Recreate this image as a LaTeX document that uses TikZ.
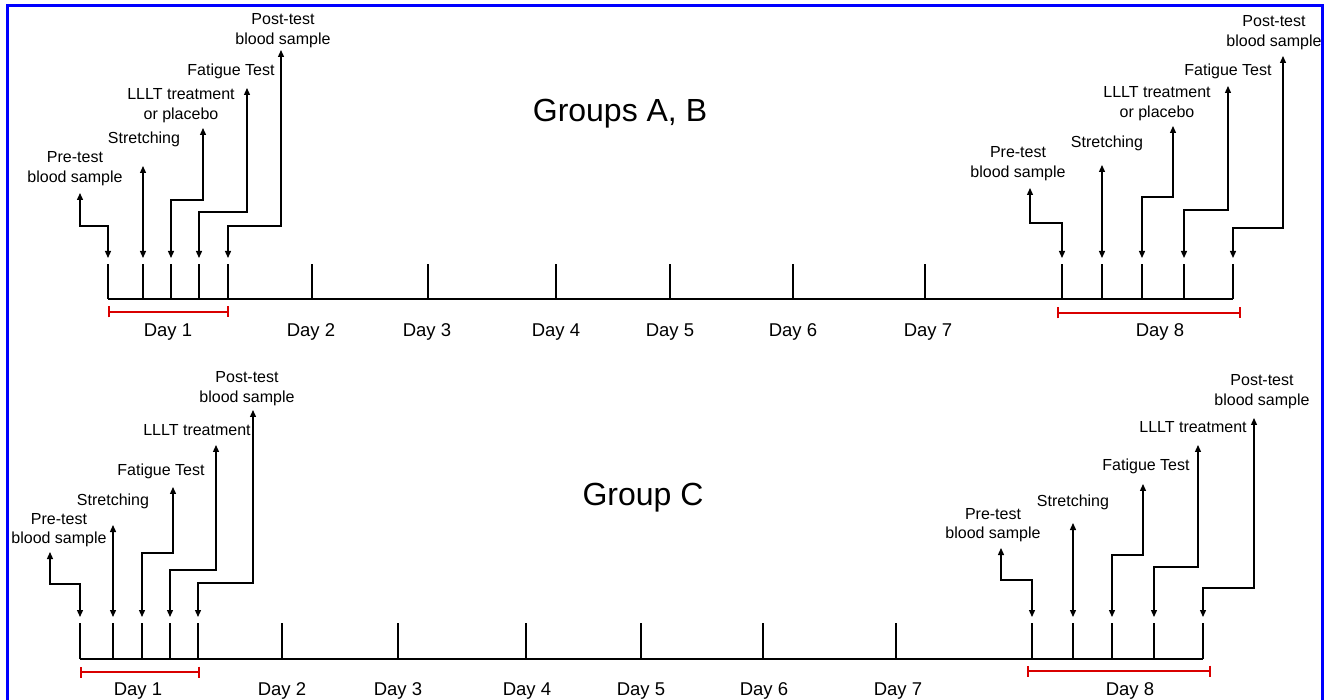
\documentclass[tikz,border=0pt]{standalone}
\usepackage{fontspec}
\setmainfont{Liberation Sans}
\usetikzlibrary{arrows.meta}
\begin{document}
\begin{tikzpicture}[x={(1pt,0)},y={(0,-1pt)},
  lbl/.style={font=\fontsize{16}{19.5}\selectfont,align=center,inner sep=0pt,anchor=base},
  daylbl/.style={font=\fontsize{18.5}{20}\selectfont,inner sep=0pt,anchor=base},
  title/.style={font=\fontsize{32}{34}\selectfont,inner sep=0pt,anchor=base},
  tick/.style={line width=2.6pt,line cap=butt},
  axis/.style={line width=2.6pt,line cap=butt},
  span/.style={draw=red!85!black,line width=2.2pt,{Bar[width=11pt,line width=2pt]}-{Bar[width=11pt,line width=2pt]}},
  arr/.style={line width=1.3pt,{Triangle[length=7pt,width=6pt]}-{Triangle[length=7pt,width=6pt]}},
  frame/.style={draw=blue,line width=3pt}]
\useasboundingbox (0,0) rectangle (1326,700);
\begin{scope}
\clip (0,0) rectangle (1326,700);
\draw[frame] (7,6) rectangle (1322,712);
\end{scope}

% ================= Panel A =================
\node[title] (tA) at (620,122) {Groups A, B};
\foreach \n/\x in {a1/108,a2/143,a3/171,a4/199,a5/228,a6/312,a7/428,a8/556,a9/670,a10/793,a11/925,a12/1062,a13/1102,a14/1142,a15/1184,a16/1233}{
  \coordinate (\n b) at (\x,299);
  \coordinate (\n t) at (\x,264);
  \coordinate (\n e) at (\x,258);
}
\draw[axis] (a1b) -- (a16b);
\foreach \n in {a1,a2,a3,a4,a5,a6,a7,a8,a9,a10,a11,a12,a13,a14,a15,a16}{\draw[tick] (\n b) -- (\n t);}
\coordinate (ra1) at (108,312); \coordinate (ra2) at (229,312);
\coordinate (ra3) at (1057,313); \coordinate (ra4) at (1241,313);
\draw[span] (ra1) -- (ra2);
\draw[span] (ra3) -- (ra4);
\node[daylbl] (dA1) at (168,337) {Day 1};
\node[daylbl] (dA2) at (311,337) {Day 2};
\node[daylbl] (dA3) at (427,337) {Day 3};
\node[daylbl] (dA4) at (556,337) {Day 4};
\node[daylbl] (dA5) at (670,337) {Day 5};
\node[daylbl] (dA6) at (793,337) {Day 6};
\node[daylbl] (dA7) at (928,337) {Day 7};
\node[daylbl] (dA8) at (1160,337) {Day 8};
% labels left (base = last line)
\node[lbl] (LA1) at (75,182.5) {Pre-test\\blood sample};
\node[lbl] (LA2) at (144,144) {Stretching};
\node[lbl] (LA3) at (181,119.5) {LLLT treatment\\or placebo};
\node[lbl] (LA4) at (231,76) {Fatigue Test};
\node[lbl] (LA5) at (283,44.5) {Post-test\\blood sample};
% labels right
\node[lbl] (RA1) at (1018,177.5) {Pre-test\\blood sample};
\node[lbl] (RA2) at (1107,148) {Stretching};
\node[lbl] (RA3) at (1157,117.5) {LLLT treatment\\or placebo};
\node[lbl] (RA4) at (1228,76) {Fatigue Test};
\node[lbl] (RA5) at (1274,46.5) {Post-test\\blood sample};
% arrows left
\coordinate (uA1) at (80,193);  \coordinate (kA1) at (108,226);
\coordinate (uA2) at (143,166);
\coordinate (uA3) at (203,128); \coordinate (kA3) at (171,200);
\coordinate (uA4) at (247,88);  \coordinate (kA4) at (199,212);
\coordinate (uA5) at (281,50);  \coordinate (kA5) at (228,226);
\draw[arr] (uA1) |- (kA1) -- (a1e);
\draw[arr] (uA2) -- (a2e);
\draw[arr] (uA3) |- (kA3) -- (a3e);
\draw[arr] (uA4) |- (kA4) -- (a4e);
\draw[arr] (uA5) |- (kA5) -- (a5e);
% arrows right
\coordinate (vA1) at (1030,188); \coordinate (mA1) at (1062,223);
\coordinate (vA2) at (1102,165);
\coordinate (vA3) at (1173,126); \coordinate (mA3) at (1142,197);
\coordinate (vA4) at (1228,86);  \coordinate (mA4) at (1184,210);
\coordinate (vA5) at (1283,56);  \coordinate (mA5) at (1233,228);
\draw[arr] (vA1) |- (mA1) -- (a12e);
\draw[arr] (vA2) -- (a13e);
\draw[arr] (vA3) |- (mA3) -- (a14e);
\draw[arr] (vA4) |- (mA4) -- (a15e);
\draw[arr] (vA5) |- (mA5) -- (a16e);

% ================= Panel C =================
\node[title] (tC) at (643,506) {Group C};
\foreach \n/\x in {c1/80,c2/113,c3/142,c4/170,c5/198,c6/282,c7/398,c8/526,c9/641,c10/763,c11/896,c12/1032,c13/1073,c14/1112,c15/1154,c16/1203}{
  \coordinate (\n b) at (\x,659);
  \coordinate (\n t) at (\x,623);
  \coordinate (\n e) at (\x,617);
}
\draw[axis] (c1b) -- (c16b);
\foreach \n in {c1,c2,c3,c4,c5,c6,c7,c8,c9,c10,c11,c12,c13,c14,c15,c16}{\draw[tick] (\n b) -- (\n t);}
\coordinate (rc1) at (80,672); \coordinate (rc2) at (200,672);
\coordinate (rc3) at (1027,671); \coordinate (rc4) at (1211,671);
\draw[span] (rc1) -- (rc2);
\draw[span] (rc3) -- (rc4);
\node[daylbl] (dC1) at (138,695) {Day 1};
\node[daylbl] (dC2) at (282,695) {Day 2};
\node[daylbl] (dC3) at (398,695) {Day 3};
\node[daylbl] (dC4) at (527,695) {Day 4};
\node[daylbl] (dC5) at (641,695) {Day 5};
\node[daylbl] (dC6) at (764,695) {Day 6};
\node[daylbl] (dC7) at (898,695) {Day 7};
\node[daylbl] (dC8) at (1130,695) {Day 8};
% labels left
\node[lbl] (LC1) at (59,543.5) {Pre-test\\blood sample};
\node[lbl] (LC2) at (113,506) {Stretching};
\node[lbl] (LC3) at (161,476) {Fatigue Test};
\node[lbl] (LC4) at (197,436) {LLLT treatment};
\node[lbl] (LC5) at (247,402.5) {Post-test\\blood sample};
% labels right
\node[lbl] (RC1) at (993,538.5) {Pre-test\\blood sample};
\node[lbl] (RC2) at (1073,507) {Stretching};
\node[lbl] (RC3) at (1146,471) {Fatigue Test};
\node[lbl] (RC4) at (1193,433) {LLLT treatment};
\node[lbl] (RC5) at (1262,405.5) {Post-test\\blood sample};
% arrows left
\coordinate (uC1) at (50,552);  \coordinate (kC1) at (80,584);
\coordinate (uC2) at (113,525);
\coordinate (uC3) at (173,487); \coordinate (kC3) at (142,553);
\coordinate (uC4) at (216,445); \coordinate (kC4) at (170,570);
\coordinate (uC5) at (253,410); \coordinate (kC5) at (198,583);
\draw[arr] (uC1) |- (kC1) -- (c1e);
\draw[arr] (uC2) -- (c2e);
\draw[arr] (uC3) |- (kC3) -- (c3e);
\draw[arr] (uC4) |- (kC4) -- (c4e);
\draw[arr] (uC5) |- (kC5) -- (c5e);
% arrows right
\coordinate (vC1) at (1001,548); \coordinate (mC1) at (1032,580);
\coordinate (vC2) at (1073,523);
\coordinate (vC3) at (1143,484); \coordinate (mC3) at (1112,555);
\coordinate (vC4) at (1198,445); \coordinate (mC4) at (1154,567);
\coordinate (vC5) at (1254,418); \coordinate (mC5) at (1203,588);
\draw[arr] (vC1) |- (mC1) -- (c12e);
\draw[arr] (vC2) -- (c13e);
\draw[arr] (vC3) |- (mC3) -- (c14e);
\draw[arr] (vC4) |- (mC4) -- (c15e);
\draw[arr] (vC5) |- (mC5) -- (c16e);
\end{tikzpicture}
\end{document}
